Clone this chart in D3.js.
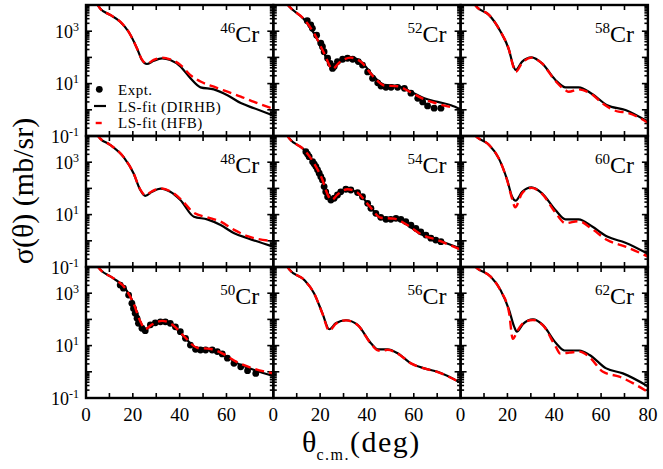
<!DOCTYPE html>
<html>
<head>
<meta charset="utf-8">
<script src="https://cdn.jsdelivr.net/npm/d3@7"></script>
<style>
  body { margin: 0; background: #fff; }
  svg { display: block; }
  text { font-family: "Liberation Serif", "Times New Roman", serif; fill: #000; }
</style>
</head>
<body>
<svg id="chart" width="663" height="469"></svg>
<script>
// Elastic differential cross sections for Cr isotopes, [theta_cm (deg), sigma (mb/sr)]
const massNumbers = [46, 48, 50, 52, 54, 56, 58, 60, 62];
const thetaTickLabels = [0, 20, 40, 60];
const sigmaTickExponents = [3, 1, -1];

const dirhb46 = [[4.5,12000],[6,7400],[10.3,4200],[14.6,2300],[18.2,950],[21.8,220],[23.9,80],[26,56],[28.9,74],[32.5,91],[36,79],[40.3,45],[44.6,16],[48.9,7.2],[54.6,6.0],[60.4,3.6],[66.1,1.8],[71.8,1.15],[80,0.6]];
const hfb46   = [[4.5,12000],[6,7400],[10.3,4200],[14.6,2300],[18.2,950],[21.8,220],[23.9,82],[26,58],[28.9,80],[32.5,98],[36,84],[40.3,52],[44.6,21],[48.9,12],[54.6,7.6],[60.4,4.9],[66.1,3.2],[71.8,2.0],[80,1.1]];

const dirhb48 = [[4.5,12000],[6,8100],[10.3,4600],[16,1600],[20.3,380],[23.2,87],[25.3,52],[28.2,74],[31.8,98],[36,74],[40.3,36],[46.1,8.3],[51.8,6.6],[57.5,4.0],[63.3,1.95],[69,1.26],[80,0.6]];
const hfb48   = [[4.5,12000],[6,8100],[10.3,4600],[16,1600],[20.3,380],[23.2,90],[25.3,55],[28.2,78],[31.8,100],[36,78],[40.3,40],[46.1,11.7],[51.8,7.9],[57.5,5.4],[63.3,2.6],[69,1.5],[80,0.98]];

const dirhb50 = [[4.5,12000],[6,8100],[11.7,3700],[16.7,1550],[20.3,410],[23.2,81],[25.3,40],[28.2,62],[32.5,87],[36.8,62],[41.8,22],[47.5,7.9],[53.3,7.2],[59,4.4],[64.7,2.1],[71.9,1.17],[80,0.69]];
const hfb50   = [[4.5,12000],[6,8100],[11.7,3700],[16.7,1550],[20.3,410],[23.2,84],[25.3,43],[28.2,64],[32.5,88],[36.8,64],[41.8,23],[47.5,8.3],[53.3,7.4],[59,4.6],[64.7,2.3],[71.9,1.3],[80,0.87]];
const expt50  = [[14.6,2040],[16,1550],[18.2,850],[19.6,410],[20.3,263],[21,170],[21.8,110],[22.4,71],[23.9,46],[25.3,37],[27.5,62],[29.6,74],[31.8,81],[33.9,81],[36,71],[38.2,52],[40.3,34],[42.5,19],[44.6,10.5],[46.8,7.2],[48.9,6.8],[51.1,6.8],[53.9,6.8],[56.1,5.9],[58.2,4.8],[60.4,3.3],[63.2,2.1],[66.1,1.55],[69,1.1],[72.5,0.87]];

const dirhb52 = [[5.5,12000],[6.8,8700],[13.2,2800],[17.4,830],[21.7,145],[25.3,35],[28.1,63],[33.1,100],[37.4,69],[43.1,18],[47.4,8.9],[53.1,8.1],[58.8,4.9],[64.5,2.75],[70.2,2.0],[75.9,1.5],[80,1.05]];
const hfb52   = [[5.5,12000],[6.8,8700],[13.2,2800],[17.4,830],[21.7,145],[25.3,36],[28.1,63],[33.1,98],[37.4,68],[43.1,17],[47.4,8.5],[53.1,7.9],[58.8,4.6],[64.5,2.5],[70.2,1.7],[77,1.2]];
const expt52  = [[14.5,2500],[16,1740],[16.7,1290],[18.5,700],[20.3,350],[21,257],[21.7,166],[23.2,93],[24.3,59],[25.3,38],[26,45],[27.4,69],[29.6,85],[31.7,93],[33.9,85],[36.3,69],[38.1,51],[40.3,28],[42.4,16],[44.6,10.7],[46,8.1],[48.1,7.2],[50.3,7.2],[53.1,7.2],[56,6.6],[58.8,4.3],[61.7,2.75],[63.8,2.0],[65.9,1.4],[68.7,1.15],[71.6,1.15]];

const dirhb54 = [[5.5,12000],[6.8,8100],[13.2,2950],[17.4,910],[21,210],[23.2,56],[24.9,34],[27.4,56],[31.7,93],[36,69],[40.9,23],[45.9,7.9],[51.6,7.2],[57.4,4.0],[63,1.8],[70.2,1.07],[80,0.51]];
const hfb54   = [[5.5,12000],[6.8,8100],[13.2,2950],[17.4,910],[21,210],[23.2,58],[24.9,36],[27.4,58],[31.7,93],[36,68],[40.9,22],[45.9,7.6],[51.6,7.0],[57.4,3.9],[63,1.8],[70.2,1.05],[80,0.46]];
const expt54  = [[13.9,2500],[14.6,2040],[15.3,1620],[16.8,1050],[17.5,850],[18.2,680],[18.9,510],[19.6,380],[20.3,280],[21,210],[21.7,117],[22.4,74],[23.2,48],[24.6,36],[26,42],[27.4,56],[28.8,74],[31,93],[33.1,87],[36,69],[38.1,48],[40.3,27],[41.7,17.4],[43.8,11.2],[45.9,7.9],[48.1,6.6],[50.2,6.6],[52.4,7.2],[54.5,6.6],[56.6,5.4],[58.8,4.0],[60.9,3.0],[63,2.2],[65.2,1.66],[67.3,1.26],[69.4,1.07],[71.6,0.93]];

const dirhb56 = [[5.5,12000],[6.8,8100],[13.2,3200],[17.4,1000],[21,170],[23.9,42],[26.7,71],[31,93],[36,62],[41.7,12.3],[44.6,7.2],[48.8,7.2],[53.1,5.1],[58.8,2.1],[64.5,1.35],[70.2,1.0],[80,0.38]];
const hfb56   = [[5.5,12000],[6.8,8100],[13.2,3200],[17.4,1000],[21,165],[23.9,37],[26.7,68],[31,92],[36,61],[41.7,11.8],[44.6,6.6],[46.5,6.3],[48.8,6.9],[53.1,5.0],[58.8,2.1],[64.5,1.35],[70.2,0.98],[80,0.38]];

const dirhb58 = [[5.5,12000],[7.1,8100],[12.1,4200],[17.1,950],[20.7,190],[22.4,51],[23.5,33],[26.3,69],[30.3,100],[34.8,59],[40.5,13.8],[44.8,7.2],[50.4,7.2],[56.2,4.0],[62.6,1.5],[70.4,0.98],[80,0.35]];
const hfb58   = [[5.5,12000],[7.1,8100],[12.1,4200],[17.1,950],[20.7,190],[22.4,48],[23.5,28],[26.3,62],[30.3,98],[34.8,59],[40.5,12.5],[44.8,5.6],[46.2,4.9],[50.4,6.0],[56.2,3.8],[60.5,1.8],[67.5,0.85],[70.4,0.8],[80,0.32]];

const dirhb60 = [[5.5,12000],[7.1,8900],[12.1,4600],[16.3,1400],[19.9,210],[22,48],[23.5,34],[26.3,74],[30.3,110],[34.8,65],[40.5,15],[44.8,6.6],[50.4,6.6],[56.2,3.5],[62.6,1.45],[70.4,0.85],[80,0.32]];
const hfb60   = [[5.5,12000],[7.1,8900],[12.1,4600],[16.3,1400],[19.9,200],[22,40],[23.3,19],[26.3,66],[30.3,105],[34.8,62],[40.5,12],[44.8,4.7],[50.4,5.6],[56.2,2.8],[62.6,1.07],[70.4,0.6],[80,0.25]];

const dirhb62 = [[5.5,12000],[7.1,8900],[12.8,4300],[17.1,1300],[20.7,230],[22.9,52],[24,34],[26.6,66],[30.9,100],[35.1,62],[40.8,12.3],[44.4,6.5],[50.8,6.5],[55.1,4.4],[62.2,1.35],[69.3,0.87],[80,0.28]];
const hfb62   = [[5.5,12000],[7.1,8900],[12.8,4300],[17.1,1250],[20.7,180],[22.3,18],[24.5,40],[27,75],[30.9,95],[35.1,60],[40.8,8.5],[42.5,5.0],[46.5,5.4],[50.8,5.9],[55.1,3.6],[60.8,1.0],[67.8,0.65],[80,0.17]];

const dirhbSets = [dirhb46, dirhb48, dirhb50, dirhb52, dirhb54, dirhb56, dirhb58, dirhb60, dirhb62];
const hfbSets   = [hfb46, hfb48, hfb50, hfb52, hfb54, hfb56, hfb58, hfb60, hfb62];
const exptSets  = [null, null, expt50, expt52, expt54, null, null, null, null];

// Layout: 3 x 3 grid of panels sharing borders, filled column by column
const gridLeft = 86, gridTop = 5, panelW = 187.3, panelH = 131;

const svg = d3.select("#chart");
const defs = svg.append("defs");

massNumbers.forEach((A, i) => {
  const col = Math.floor(i / 3), row = i % 3;
  const x0 = gridLeft + col * panelW, y0 = gridTop + row * panelH;

  const x = d3.scaleLinear().domain([0, 80]).range([x0, x0 + panelW]);
  const y = d3.scaleLog().domain([0.1, 1e4]).range([y0 + panelH, y0]);

  const g = svg.append("g");
  const clipId = "clip" + A;
  defs.append("clipPath").attr("id", clipId)
    .append("rect").attr("x", x0).attr("y", y0).attr("width", panelW).attr("height", panelH);

  // inward ticks: theta every 10 deg on top and bottom
  const tk = g.append("g").attr("stroke", "#000").attr("stroke-width", 1.6);
  d3.range(10, 80, 10).forEach(t => {
    tk.append("line").attr("x1", x(t)).attr("x2", x(t)).attr("y1", y0).attr("y2", y0 + 5);
    tk.append("line").attr("x1", x(t)).attr("x2", x(t)).attr("y1", y0 + panelH).attr("y2", y0 + panelH - 5);
  });
  // inward ticks: log decades and minor ticks on left and right
  for (let e = -1; e < 4; e++) {
    for (let m = 1; m < 10; m++) {
      const v = m * Math.pow(10, e);
      const len = m === 1 ? 6 : 3.5;
      tk.append("line").attr("x1", x0).attr("x2", x0 + len).attr("y1", y(v)).attr("y2", y(v));
      tk.append("line").attr("x1", x0 + panelW).attr("x2", x0 + panelW - len).attr("y1", y(v)).attr("y2", y(v));
    }
  }

  const plot = g.append("g").attr("clip-path", `url(#${clipId})`);
  const line = d3.line().x(d => x(d[0])).y(d => y(d[1])).curve(d3.curveMonotoneX);

  if (exptSets[i]) {
    plot.selectAll("circle.expt").data(exptSets[i]).join("circle")
      .attr("class", "expt")
      .attr("cx", d => x(d[0])).attr("cy", d => y(d[1])).attr("r", 3.4).attr("fill", "#000");
  }
  plot.append("path").datum(dirhbSets[i]).attr("d", line)
    .attr("fill", "none").attr("stroke", "#000").attr("stroke-width", 2.2);
  plot.append("path").datum(hfbSets[i]).attr("d", line)
    .attr("fill", "none").attr("stroke", "#ff0000").attr("stroke-width", 2.4)
    .attr("stroke-dasharray", "9,5");

  // frame
  g.append("rect").attr("x", x0).attr("y", y0).attr("width", panelW).attr("height", panelH)
    .attr("fill", "none").attr("stroke", "#000").attr("stroke-width", 2.4);

  // nucleus label
  const lab = g.append("text").attr("x", x0 + panelW - 14).attr("y", y0 + 37).attr("text-anchor", "end");
  lab.append("tspan").attr("font-size", 15).attr("dy", -9).text(A);
  lab.append("tspan").attr("font-size", 24).attr("dy", 9).text("Cr");

  // sigma tick labels on the first column
  if (col === 0) {
    sigmaTickExponents.forEach(p => {
      const t = g.append("text").attr("x", 79).attr("y", y(Math.pow(10, p)) + 6.5).attr("text-anchor", "end");
      t.append("tspan").attr("font-size", 18).text("10");
      t.append("tspan").attr("font-size", 12).attr("dy", -7).text(p);
    });
  }
  // theta tick labels on the bottom row
  if (row === 2) {
    const labels = col === 2 ? thetaTickLabels.concat([80]) : thetaTickLabels;
    labels.forEach(t => {
      g.append("text").attr("x", x(t)).attr("y", 421).attr("text-anchor", "middle")
        .attr("font-size", 19).text(t);
    });
  }

  // legend in the first panel
  if (i === 0) {
    const lg = g.append("g");
    lg.append("circle").attr("cx", 99.3).attr("cy", 89.3).attr("r", 3.4).attr("fill", "#000");
    lg.append("line").attr("x1", 94).attr("x2", 106).attr("y1", 106).attr("y2", 106)
      .attr("stroke", "#000").attr("stroke-width", 2.2);
    lg.append("line").attr("x1", 95.7).attr("x2", 101.7).attr("y1", 123).attr("y2", 123)
      .attr("stroke", "#ff0000").attr("stroke-width", 2.4);
    [["Expt.", 94.5], ["LS-fit (DIRHB)", 111.5], ["LS-fit (HFB)", 128.3]].forEach(([s, yy]) => {
      lg.append("text").attr("x", 118).attr("y", yy).attr("font-size", 15)
        .attr("letter-spacing", 0.5).text(s);
    });
  }
});

// axis titles
const xt = svg.append("text").attr("x", 302).attr("y", 452).attr("font-size", 30);
xt.append("tspan").text("θ");
xt.append("tspan").attr("font-size", 16).attr("dy", 8).attr("letter-spacing", 1.5).text("c.m.");
xt.append("tspan").attr("dy", -8).attr("letter-spacing", 1.5).text("(deg)");

svg.append("text")
  .attr("transform", "translate(33,191) rotate(-90)")
  .attr("text-anchor", "middle").attr("font-size", 30)
  .text("σ(θ) (mb/sr)");
</script>
</body>
</html>
